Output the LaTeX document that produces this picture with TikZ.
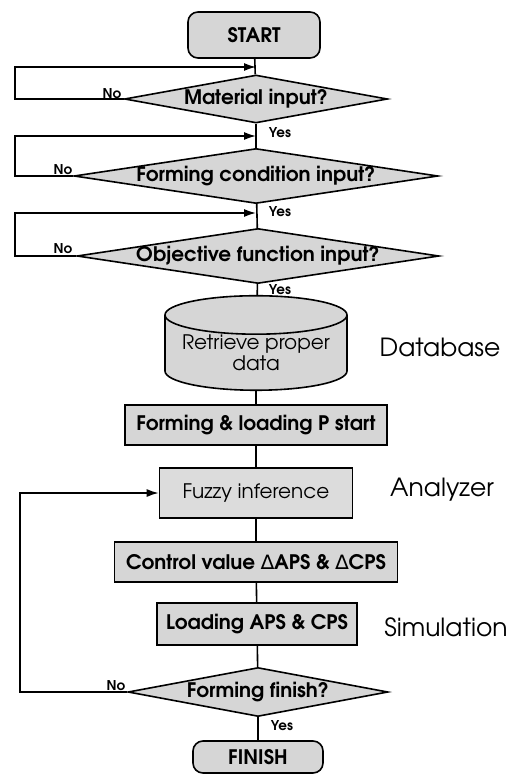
\documentclass[tikz,border=0pt]{standalone}
\usepackage{fontspec}
\setmainfont{TeX Gyre Adventor}
\newfontfamily\dv{DejaVu Sans}
\usetikzlibrary{shapes.geometric,arrows.meta}
\definecolor{boxgray}{gray}{0.84}
\begin{document}
\begin{tikzpicture}[x=1pt,y=-1pt,
  line width=1.6pt,
  bfont/.style={font=\bfseries\fontsize{20}{22}\selectfont},
  rfont/.style={font=\fontsize{20}{22}\selectfont},
  box/.style={draw, fill=boxgray, inner sep=0pt, bfont},
  term/.style={box, rounded corners=10pt},
  dia/.style={draw, fill=boxgray, diamond, inner sep=0pt},
  dtext/.style={bfont, inner sep=0pt},
  small/.style={font=\bfseries\fontsize{13.5}{15}\selectfont, inner sep=0pt},
  side/.style={font=\fontsize{25}{28}\selectfont, inner sep=0pt},
  arr/.style={-{Latex[length=12pt,width=8pt]}},
]
\useasboundingbox (0,0) rectangle (521,778);
% terminals
\node[term, minimum width=132pt, minimum height=46pt] (start) at (254,35) {START};
\node[term, minimum width=130pt, minimum height=32pt] (finish) at (258,757) {FINISH};
% decisions
\node[dia, minimum width=263pt, minimum height=48pt] (d1) at (256,99) {};
\node[dtext] (t1) at (d1.center) {Material input?};
\node[dia, minimum width=364pt, minimum height=55pt] (d2) at (256,176) {};
\node[dtext] (t2) at (d2.center) {Forming condition input?};
\node[dia, minimum width=362pt, minimum height=55pt] (d3) at (258,256) {};
\node[dtext] (t3) at (d3.center) {Objective function input?};
\node[dia, minimum width=260pt, minimum height=49pt] (d4) at (258,692) {};
\node[dtext] (t4) at (d4.center) {Forming finish?};
% database
\node[draw, fill=boxgray, cylinder, shape border rotate=90, aspect=0.26,
      minimum width=182pt, minimum height=73pt, inner sep=0pt,
      rfont, align=center] (db) at (256,353) {Retrieve proper\\[-1pt]data};
% process boxes
\node[box, minimum width=262pt, minimum height=40pt] (p1) at (256,425) {Forming \& loading P start};
\node[box, fill=boxgray!85, minimum width=193pt, minimum height=50pt, rfont] (p2) at (256,493) {Fuzzy inference};
\node[box, minimum width=283pt, minimum height=40pt] (p3) at (256,562) {Control value {\dv\mdseries\symbol{"2206}}APS \& {\dv\mdseries\symbol{"2206}}CPS};
\node[box, minimum width=200pt, minimum height=42pt] (p4) at (257,624) {Loading APS \& CPS};
% side labels
\node[side] (lab1) at (440,347) {Database};
\node[side] (lab2) at (442,490) {Analyzer};
\node[side] (lab3) at (446,627) {Simulation};
% junctions
\coordinate (j1) at (256,67);
\coordinate (j2) at (256,136);
\coordinate (j3) at (256,213);
\coordinate (lft) at (15,0);
\coordinate (lft4) at (20,0);
% main flow
\draw (start) -- (d1);
\draw (d1) -- (d2);
\draw (d2) -- (d3);
\draw (d3) -- (db);
\draw (db) -- (p1);
\draw (p1) -- (p2);
\draw (p2) -- (p3);
\draw (p3) -- (p4);
\draw (p4) -- (d4);
\draw (d4) -- (finish);
% loops
\draw[arr] (d1.west) -| (lft |- j1) -- (j1);
\draw[arr] (d2.west) -| (lft |- j2) -- (j2);
\draw[arr] (d3.west) -| (lft |- j3) -- (j3);
\draw[arr] (d4.west) -| (lft4 |- p2.west) -- (p2.west);
% yes/no labels
\node[small] (n1) at (112,94) {No};
\node[small] (y1) at (280,133) {Yes};
\node[small] (n2) at (63,170) {No};
\node[small] (y2) at (280,212) {Yes};
\node[small] (n3) at (63,249) {No};
\node[small] (y3) at (280,290) {Yes};
\node[small] (n4) at (116,686) {No};
\node[small] (y4) at (282,726) {Yes};
\end{tikzpicture}
\end{document}
